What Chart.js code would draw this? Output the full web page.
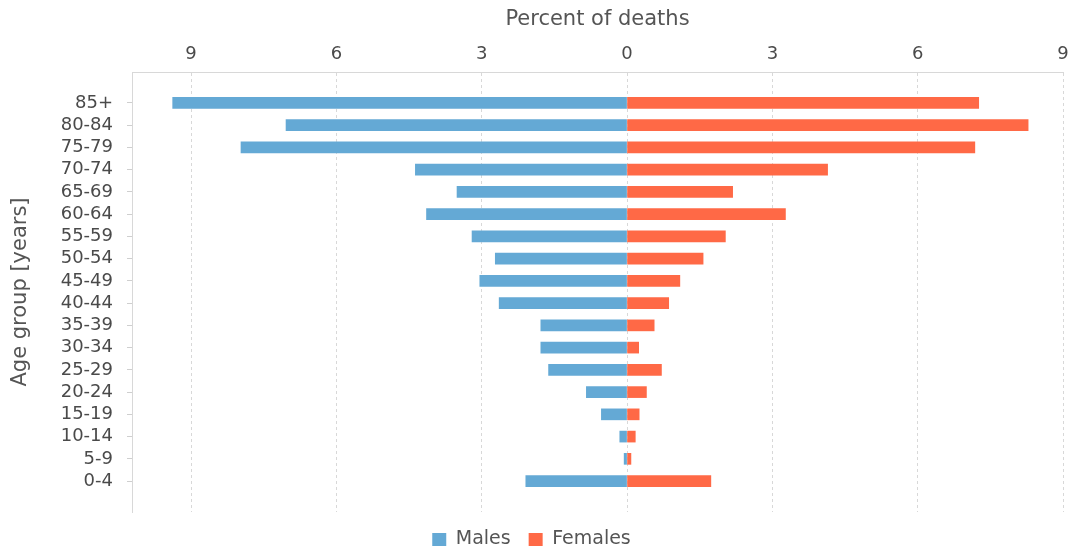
<!DOCTYPE html>
<html>
<head>
<meta charset="utf-8">
<script src="https://cdn.jsdelivr.net/npm/chart.js@4"></script>
<style>
  body { margin: 0; background: #fff; }
  #wrap { width: 1068px; height: 550px; }
</style>
</head>
<body>
<div id="wrap"><canvas id="mycanvas"></canvas></div>
<script>
var ageGroups = ['85+', '80-84', '75-79', '70-74', '65-69', '60-64', '55-59', '50-54', '45-49',
                 '40-44', '35-39', '30-34', '25-29', '20-24', '15-19', '10-14', '5-9', '0-4']
var males = [9.38, 7.04, 7.97, 4.37, 3.51, 4.14, 3.20, 2.72, 3.04, 2.64, 1.78, 1.78, 1.62, 0.84, 0.53, 0.15, 0.06, 2.09]
var females = [7.26, 8.28, 7.18, 4.14, 2.18, 3.27, 2.03, 1.57, 1.09, 0.86, 0.56, 0.24, 0.71, 0.40, 0.25, 0.17, 0.08, 1.73]
var xTicks = [-9, -6, -3, 0, 3, 6, 9]

var font = 'DejaVu Sans'

function create_pyramid(){
    var context = document.getElementById('mycanvas').getContext('2d')

    var maleData = males.map(function(v, i){ return {x: -v, y: i} })
    var femaleData = females.map(function(v, i){ return {x: v, y: i} })

    new Chart(context, {
        type: 'bar',
        data: {
            datasets: [{
                label: 'Males',
                data: maleData,
                backgroundColor: '#64a9d5',
                borderWidth: 0,
                barThickness: 11,
                grouped: false
            }, {
                label: 'Females',
                data: femaleData,
                backgroundColor: '#ff6946',
                borderWidth: 0,
                barThickness: 11,
                grouped: false
            }]
        },
        options: {
            indexAxis: 'y',
            responsive: true,
            maintainAspectRatio: false,
            animation: false,
            layout: { padding: { left: 0, right: 5, top: 0, bottom: -9 } },
            plugins: {
                tooltip: { enabled: false },
                legend: {
                    position: 'bottom',
                    labels: {
                        boxWidth: 14,
                        boxHeight: 13,
                        padding: 18,
                        color: '#555',
                        font: { family: font, size: 19 }
                    }
                }
            },
            scales: {
                x: {
                    type: 'linear',
                    position: 'top',
                    min: -10.22,
                    max: 9,
                    afterBuildTicks: function(s){
                        s.ticks = xTicks.map(function(v){ return {value: v} })
                    },
                    afterFit: function(s){
                        s.height = 72
                        s.paddingLeft = 0
                        s.paddingRight = 0
                    },
                    ticks: {
                        padding: 7,
                        color: '#4a4a4a',
                        font: { family: font, size: 18 },
                        callback: function(v){ return Math.abs(v) }
                    },
                    grid: { color: '#d8d8d8', drawTicks: false },
                    border: { display: true, color: '#d8d8d8', dash: [3, 3] },
                    title: {
                        display: true,
                        text: 'Percent of deaths',
                        color: '#555',
                        padding: { top: 7, bottom: 0 },
                        font: { family: font, size: 21 }
                    }
                },
                y: {
                    type: 'linear',
                    reverse: true,
                    offset: false,
                    min: -1.39,
                    max: 18.39,
                    afterBuildTicks: function(s){
                        s.ticks = ageGroups.map(function(_, i){ return {value: i} })
                    },
                    afterFit: function(s){
                        s.width = 132
                        s.paddingTop = 0
                        s.paddingBottom = 0
                    },
                    ticks: {
                        autoSkip: false,
                        padding: 14,
                        color: '#4a4a4a',
                        font: { family: font, size: 18 },
                        callback: function(v){ return ageGroups[v] }
                    },
                    grid: { offset: false, drawOnChartArea: false, tickLength: 5, color: '#cfcfcf' },
                    border: { display: true, color: '#d8d8d8' },
                    title: {
                        display: true,
                        text: 'Age group [years]',
                        color: '#555',
                        padding: { top: 8, bottom: 0 },
                        font: { family: font, size: 21 }
                    }
                }
            }
        }
    })
}

create_pyramid()
</script>
</body>
</html>
